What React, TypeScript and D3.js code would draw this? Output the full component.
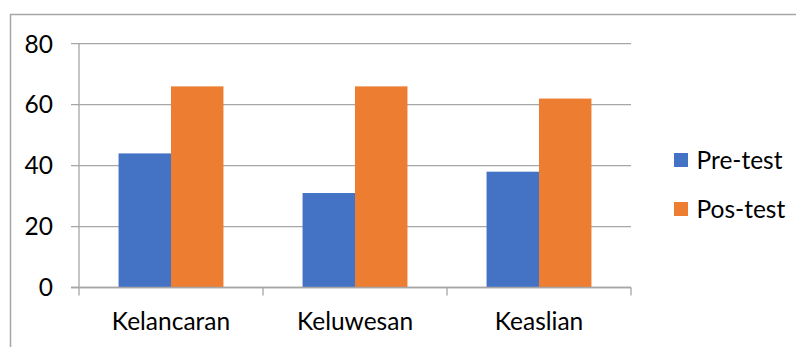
import React from "react";
import * as d3 from "d3";

const categories = ["Kelancaran", "Keluwesan", "Keaslian"];
const seriesNames = ["Pre-test", "Pos-test"];
const preTest = [44, 31, 38];
const posTest = [66, 66, 62];
const yTicks = [0, 20, 40, 60, 80];
const colors = ["#4472C4", "#ED7D31"];

const W = 796;
const H = 347;
const FONT = "Lato, 'Open Sans', sans-serif";
const FS = 24.5;

export default function App() {
  const left = 79;
  const right = 631;
  const top = 43.7;
  const bottom = 287.5;
  const x = d3.scaleBand<string>().domain(categories).range([left, right]).paddingInner(0.43).paddingOuter(0.215);
  const x1 = d3.scaleBand<string>().domain(seriesNames).range([0, x.bandwidth()]);
  const y = d3.scaleLinear().domain([0, 80]).range([bottom, top]);
  const series = [preTest, posTest];
  const bandStep = (right - left) / categories.length;
  const gridColor = "#a6a6a6";

  return (
    <svg width={W} height={H} style={{ position: "absolute", left: 0, top: 0, background: "#fff" }}>
      <rect x={10.5} y={14.5} width={900} height={500} fill="#fff" stroke="#a6a6a6" strokeWidth={1.5} />
      {yTicks.map((t) => (
        <g key={t}>
          <line x1={71} x2={right} y1={y(t)} y2={y(t)} stroke={gridColor} strokeWidth={1.3} />
          <text x={53} y={y(t)} dy="0.36em" textAnchor="end" fontFamily={FONT} fontSize={FS} fill="#000">
            {t}
          </text>
        </g>
      ))}
      <line x1={left} x2={left} y1={top} y2={bottom + 8} stroke={gridColor} strokeWidth={1.3} />
      {categories.map((c, i) => (
        <line key={"t" + c} x1={left + bandStep * (i + 1)} x2={left + bandStep * (i + 1)} y1={bottom} y2={bottom + 8} stroke={gridColor} strokeWidth={1.3} />
      ))}
      {categories.map((c, i) => (
        <g key={c}>
          {seriesNames.map((s, j) => (
            <rect
              key={s}
              x={(x(c) as number) + (x1(s) as number)}
              y={y(series[j][i])}
              width={x1.bandwidth()}
              height={bottom - y(series[j][i])}
              fill={colors[j]}
            />
          ))}
          <text x={(x(c) as number) + x.bandwidth() / 2} y={330} textAnchor="middle" fontFamily={FONT} fontSize={FS} fill="#000">
            {c}
          </text>
        </g>
      ))}
      <line x1={71} x2={right} y1={bottom} y2={bottom} stroke={gridColor} strokeWidth={1.3} />
      {seriesNames.map((s, j) => (
        <g key={s} transform={`translate(674, ${153 + j * 49})`}>
          <rect x={0} y={0} width={14} height={14} fill={colors[j]} />
          <text x={22.5} y={15.5} fontFamily={FONT} fontSize={FS} fill="#000">
            {s}
          </text>
        </g>
      ))}
    </svg>
  );
}
